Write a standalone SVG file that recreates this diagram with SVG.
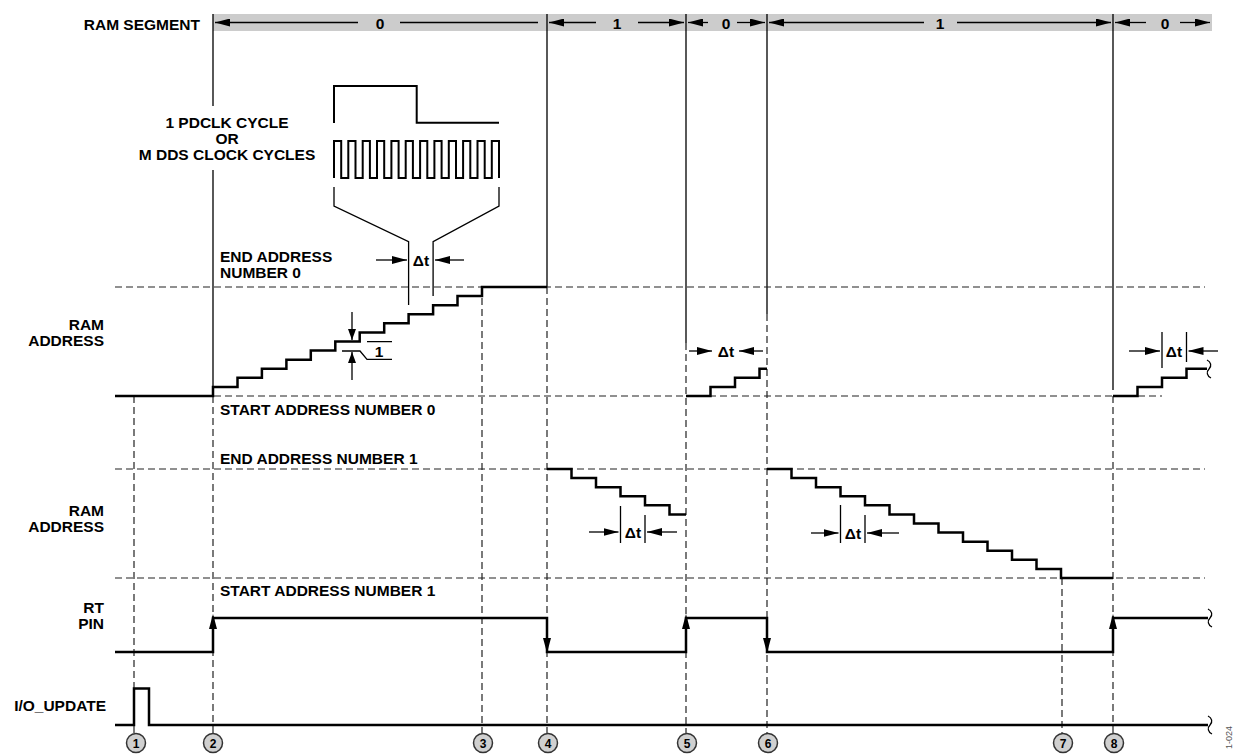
<svg xmlns="http://www.w3.org/2000/svg" width="1235" height="755" viewBox="0 0 1235 755">
<style>
text{font-family:"Liberation Sans",Arial,sans-serif;font-weight:bold;font-size:15.5px;fill:#000}
.r{text-anchor:end}
.m{text-anchor:middle}
.tr{fill:none;stroke:#000;stroke-width:2.5;stroke-linejoin:miter}
.ck{fill:none;stroke:#000;stroke-width:2}
.sl{fill:none;stroke:#000;stroke-width:1.3}
.dl{fill:none;stroke:#222;stroke-width:1.2;stroke-dasharray:7,4}
.ar{fill:none;stroke:#000;stroke-width:1.3;marker-end:url(#ah)}
.ar1{fill:none;stroke:#000;stroke-width:1.3;marker-end:url(#ah1)}
.cir{fill:#d0d0d0;stroke:#333;stroke-width:1.5}
.cn{font-size:12px}
.hd{fill:#000}
</style>
<defs>
<marker id="ah" markerUnits="userSpaceOnUse" markerWidth="15" markerHeight="8" viewBox="0 0 15 8" refX="15" refY="4" orient="auto"><path d="M0,0 L15,4 L0,8 z" fill="#000"/></marker>
<marker id="ah1" markerUnits="userSpaceOnUse" markerWidth="11" markerHeight="8" viewBox="0 0 11 8" refX="11" refY="4" orient="auto"><path d="M0,0 L11,4 L0,8 z" fill="#000"/></marker>
</defs>
<rect width="1235" height="755" fill="#fff"/>

<g id="segment-bar">
<rect x="213" y="14" width="999" height="17" fill="#cccccc"/>
<text class="r" x="200" y="30">RAM SEGMENT</text>
<text class="m" x="380" y="29">0</text>
<text class="m" x="617" y="29">1</text>
<text class="m" x="726" y="29">0</text>
<text class="m" x="940" y="29">1</text>
<text class="m" x="1165" y="29">0</text>
<path class="ar" d="M358,22.5 H215"/>
<path class="sl" d="M400,22.5 H538"/>
<path class="ar" d="M596,22.5 H549"/>
<path class="ar" d="M638,22.5 H684"/>
<path class="ar" d="M708,22.5 H688"/>
<path class="ar" d="M737,22.5 H765"/>
<path class="ar" d="M924,22.5 H769"/>
<path class="ar" d="M957,22.5 H1111"/>
<path class="ar" d="M1146,22.5 H1115"/>
<path class="ar" d="M1180,22.5 H1210"/>
</g>

<g id="connectors">
<path class="sl" d="M213,14 V106 M213,170 V387 M547,14 V287 M686,14 V343 M767,14 V314 M1113,14 V390"/>
<path class="dl" d="M115,287 H1205 M115,396 H1162 M115,469 H1205 M115,578 H1205"/>
<path class="dl" d="M134,396 V733 M213,396 V733 M482,287 V733 M547,287 V733 M686,343 V733 M767,314 V733 M1062,578 V733 M1113,396 V733"/>
</g>

<g id="labels">
<text class="r" x="104" y="330">RAM</text>
<text class="r" x="104" y="346">ADDRESS</text>
<text class="r" x="104" y="516">RAM</text>
<text class="r" x="104" y="532">ADDRESS</text>
<text class="r" x="104" y="613">RT</text>
<text class="r" x="104" y="629">PIN</text>
<text class="r" x="106" y="711">I/O_UPDATE</text>
<text x="220" y="262">END ADDRESS</text>
<text x="220" y="278">NUMBER 0</text>
<text x="220" y="415">START ADDRESS NUMBER 0</text>
<text x="220" y="464">END ADDRESS NUMBER 1</text>
<text x="220" y="596">START ADDRESS NUMBER 1</text>
<text x="1232" y="749" transform="rotate(-90 1232 749)" style="font-size:9px;font-weight:normal;fill:#555">1-024</text>
</g>

<g id="clock">
<text class="m" x="227" y="128">1 PDCLK CYCLE</text>
<text class="m" x="227" y="144">OR</text>
<text class="m" x="227" y="160">M DDS CLOCK CYCLES</text>
<path class="ck" d="M334,123 V86 H416.7 V122.7 H499"/>
<path class="ck" d="M334,178 V141 H341.2 V178 H348.3 V141 H355.5 V178 H362.7 V141 H369.9 V178 H377 V141 H384.2 V178 H391.4 V141 H398.6 V178 H405.7 V141 H412.9 V178 H420.1 V141 H427.3 V178 H434.4 V141 H441.6 V178 H448.8 V141 H456 V178 H463.1 V141 H470.3 V178 H477.5 V141 H484.7 V178 H491.8 V141 H499 V178"/>
<path class="sl" d="M334,187 V206 L408.6,241.7 V305 M499,187 V206 L433.1,241.7 V296"/>
<path class="ar" d="M376,260 H407"/>
<path class="ar" d="M464,260 H435"/>
<text class="m" x="421" y="266">Δt</text>
</g>

<g id="ram-address-0">
<path class="tr" d="M115,396 H213 V386.9 H237.5 V377.8 H261.9 V368.8 H286.4 V359.7 H310.8 V350.6 H335.3 V341.5 H359.7 V332.4 H384.2 V323.3 H408.6 V314.3 H433.1 V305.2 H457.5 V296.1 H482 V287 H547"/>
<path class="ar1" d="M352,312 V340"/>
<path class="ar1" d="M352,380 V352"/>
<path class="sl" d="M367,341.6 H392 M342,351 H360 L367,359.3 H392"/>
<text class="m" x="379" y="357">1</text>
<path class="tr" d="M686,396 H710.5 V386.9 H735 V377.8 H759.5 V368.8 H767"/>
<path class="ar" d="M689,351 H712"/>
<path class="ar" d="M763,351 H739"/>
<text class="m" x="726" y="357">Δt</text>
<path class="tr" d="M1113,396 H1137.5 V386.9 H1162 V377.8 H1186.5 V368.8 H1207"/>
<path class="sl" d="M1207,360 c4,2 5,6 2,9 c-3,3 -2,7 2,9"/>
<path class="sl" d="M1162,332 V368 M1186.5,332 V362"/>
<path class="ar" d="M1129,351 H1160"/>
<path class="ar" d="M1218,351 H1188.5"/>
<text class="m" x="1174" y="357">Δt</text>
</g>

<g id="ram-address-1">
<path class="tr" d="M547,469 H571.5 V478.1 H596 V487.2 H620.5 V496.3 H645 V505.3 H669.5 V514.4 H686"/>
<path class="sl" d="M620.5,506 V543 M645,515 V543"/>
<path class="ar" d="M589,532 H618.5"/>
<path class="ar" d="M677,532 H647"/>
<text class="m" x="633" y="538">Δt</text>
<path class="tr" d="M767,469 H791.5 V478.1 H816 V487.2 H840.5 V496.3 H865 V505.3 H889.5 V514.4 H914 V523.5 H938.5 V532.6 H963 V541.7 H987.5 V550.8 H1012 V559.8 H1036.5 V568.9 H1061 V578 H1113"/>
<path class="sl" d="M840.5,505 V543 M865,515 V543"/>
<path class="ar" d="M811,533 H838.5"/>
<path class="ar" d="M899,533 H867"/>
<text class="m" x="853" y="539">Δt</text>
</g>

<g id="rt-pin">
<path class="tr" d="M115,652 H213 V618 H547 V652 H686 V618 H767 V652 H1113 V618 H1208"/>
<path class="sl" d="M1208,609 c4,2 5,6 2,9 c-3,3 -2,7 2,9"/>
<path class="hd" d="M213,614 L209,629 L217,629 z M547,653 L543,638 L551,638 z M686,614 L682,629 L690,629 z M767,653 L763,638 L771,638 z M1113,614 L1109,629 L1117,629 z"/>
</g>

<g id="io-update">
<path class="tr" d="M115,725 H134 V688.5 H149 V725 H1208"/>
<path class="sl" d="M1208,716 c4,2 5,6 2,9 c-3,3 -2,7 2,9"/>
</g>

<g id="marker-1"><circle class="cir" cx="136" cy="743" r="9.5"/><text class="m cn" x="136" y="747.5">1</text></g>
<g id="marker-2"><circle class="cir" cx="213" cy="743" r="9.5"/><text class="m cn" x="213" y="747.5">2</text></g>
<g id="marker-3"><circle class="cir" cx="483" cy="743" r="9.5"/><text class="m cn" x="483" y="747.5">3</text></g>
<g id="marker-4"><circle class="cir" cx="548" cy="743" r="9.5"/><text class="m cn" x="548" y="747.5">4</text></g>
<g id="marker-5"><circle class="cir" cx="687" cy="743" r="9.5"/><text class="m cn" x="687" y="747.5">5</text></g>
<g id="marker-6"><circle class="cir" cx="768" cy="743" r="9.5"/><text class="m cn" x="768" y="747.5">6</text></g>
<g id="marker-7"><circle class="cir" cx="1063" cy="743" r="9.5"/><text class="m cn" x="1063" y="747.5">7</text></g>
<g id="marker-8"><circle class="cir" cx="1114" cy="743" r="9.5"/><text class="m cn" x="1114" y="747.5">8</text></g>
</svg>
